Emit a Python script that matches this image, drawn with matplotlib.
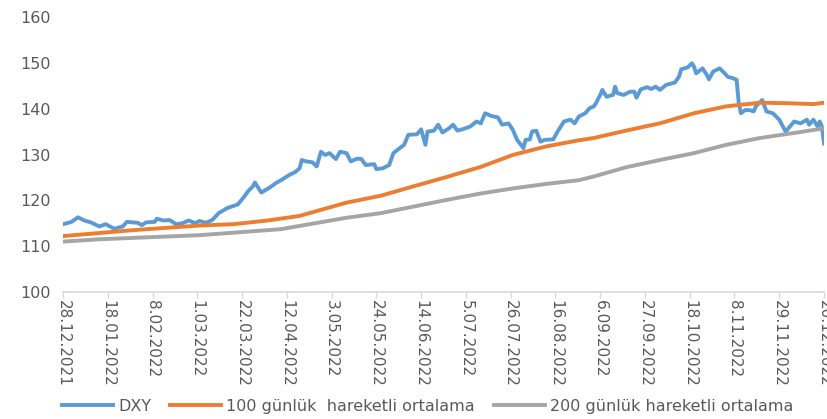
import matplotlib
matplotlib.use("Agg")
import matplotlib.pyplot as plt
import pandas as pd

# DXY and its moving averages
dxy_dates = [
    "2021-12-28", "2022-01-01", "2022-01-04", "2022-01-07", "2022-01-10", "2022-01-14",
    "2022-01-17", "2022-01-21", "2022-01-25", "2022-01-27", "2022-02-01", "2022-02-03",
    "2022-02-05", "2022-02-09", "2022-02-10", "2022-02-13", "2022-02-16", "2022-02-19",
    "2022-02-22", "2022-02-25", "2022-02-28", "2022-03-02", "2022-03-05", "2022-03-08",
    "2022-03-11", "2022-03-15", "2022-03-20", "2022-03-23", "2022-03-25", "2022-03-27",
    "2022-03-28", "2022-03-31", "2022-04-04", "2022-04-07", "2022-04-10", "2022-04-13",
    "2022-04-16", "2022-04-18", "2022-04-19", "2022-04-21", "2022-04-24", "2022-04-26",
    "2022-04-28", "2022-04-30", "2022-05-02", "2022-05-05", "2022-05-07", "2022-05-10",
    "2022-05-12", "2022-05-15", "2022-05-17", "2022-05-19", "2022-05-23", "2022-05-24",
    "2022-05-27", "2022-05-30", "2022-06-01", "2022-06-04", "2022-06-06", "2022-06-08",
    "2022-06-12", "2022-06-14", "2022-06-16", "2022-06-17", "2022-06-20", "2022-06-22",
    "2022-06-24", "2022-06-27", "2022-06-29", "2022-07-01", "2022-07-04", "2022-07-07",
    "2022-07-10", "2022-07-12", "2022-07-14", "2022-07-17", "2022-07-20", "2022-07-22",
    "2022-07-25", "2022-07-27", "2022-07-29", "2022-08-01", "2022-08-02", "2022-08-04",
    "2022-08-05", "2022-08-07", "2022-08-09", "2022-08-11", "2022-08-15", "2022-08-17",
    "2022-08-20", "2022-08-23", "2022-08-25", "2022-08-27", "2022-08-30", "2022-09-01",
    "2022-09-03", "2022-09-04", "2022-09-06", "2022-09-07", "2022-09-09", "2022-09-12",
    "2022-09-13", "2022-09-14", "2022-09-17", "2022-09-20", "2022-09-22", "2022-09-23",
    "2022-09-25", "2022-09-28", "2022-09-30", "2022-10-02", "2022-10-04", "2022-10-07",
    "2022-10-11", "2022-10-13", "2022-10-14", "2022-10-17", "2022-10-19", "2022-10-20",
    "2022-10-21", "2022-10-24", "2022-10-26", "2022-10-27", "2022-10-29", "2022-11-01",
    "2022-11-03", "2022-11-05", "2022-11-07", "2022-11-09", "2022-11-10", "2022-11-11",
    "2022-11-13", "2022-11-15", "2022-11-17", "2022-11-18", "2022-11-21", "2022-11-23",
    "2022-11-26", "2022-11-29", "2022-12-02", "2022-12-04", "2022-12-06", "2022-12-09",
    "2022-12-12", "2022-12-13", "2022-12-15", "2022-12-17", "2022-12-18", "2022-12-19",
    "2022-12-20",
]
dxy = [
    114.8, 115.3, 116.3, 115.6, 115.2, 114.3,
    114.8, 113.8, 114.3, 115.3, 115.1, 114.6,
    115.2, 115.3, 116.0, 115.6, 115.7, 114.8,
    115.0, 115.6, 115.0, 115.5, 115.1, 115.7,
    117.2, 118.3, 119.1, 120.8, 122.1, 123.0,
    123.9, 121.7, 122.8, 123.8, 124.6, 125.5,
    126.2, 127.0, 128.8, 128.5, 128.3, 127.4,
    130.6, 129.9, 130.3, 129.0, 130.6, 130.3,
    128.5, 129.1, 129.0, 127.7, 127.9, 126.8,
    127.0, 127.7, 130.3, 131.4, 132.1, 134.3,
    134.4, 135.5, 132.1, 135.0, 135.2, 136.5,
    134.8, 135.7, 136.5, 135.2, 135.6, 136.1,
    137.2, 136.8, 139.0, 138.4, 138.1, 136.5,
    136.8, 135.4, 133.2, 131.4, 133.2, 133.3,
    135.0, 135.2, 132.8, 133.2, 133.3, 135.0,
    137.2, 137.6, 136.8, 138.3, 139.0, 140.1,
    140.5, 141.2, 143.0, 144.1, 142.6, 143.0,
    144.8, 143.4, 143.0, 143.7, 143.7, 142.4,
    144.2, 144.7, 144.3, 144.8, 144.1, 145.2,
    145.7, 147.0, 148.6, 149.0, 149.9, 149.2,
    147.7, 148.8, 147.4, 146.4, 148.1, 148.8,
    147.9, 146.9, 146.7, 146.3, 141.2, 139.0,
    139.7, 139.7, 139.4, 140.5, 141.9, 139.4,
    139.0, 137.6, 135.0, 136.1, 137.2, 136.8,
    137.6, 136.5, 137.6, 136.1, 137.2, 136.1,
    132.4,
]

ma100_dates = [
    "2021-12-28", "2022-01-30", "2022-03-02", "2022-03-18", "2022-04-03", "2022-04-09",
    "2022-04-18", "2022-04-24", "2022-05-10", "2022-05-26", "2022-06-10", "2022-06-26",
    "2022-07-12", "2022-07-27", "2022-08-12", "2022-08-27", "2022-09-03", "2022-09-18",
    "2022-10-04", "2022-10-20", "2022-11-04", "2022-11-20", "2022-12-02", "2022-12-15",
    "2022-12-20",
]
ma100 = [
    112.2, 113.5, 114.5, 114.8, 115.6, 116.0,
    116.6, 117.4, 119.5, 121.0, 123.0, 125.1,
    127.3, 129.9, 131.8, 133.1, 133.6, 135.2,
    136.8, 139.0, 140.5, 141.3, 141.2, 141.0,
    141.3,
]

ma200_dates = [
    "2021-12-28", "2022-01-14", "2022-03-02", "2022-04-09", "2022-04-24", "2022-05-10",
    "2022-05-26", "2022-06-10", "2022-06-26", "2022-07-12", "2022-07-27", "2022-08-12",
    "2022-08-27", "2022-09-03", "2022-09-18", "2022-10-04", "2022-10-20", "2022-11-04",
    "2022-11-20", "2022-12-06", "2022-12-20",
]
ma200 = [
    111.0, 111.5, 112.4, 113.7, 114.9, 116.2,
    117.2, 118.6, 120.1, 121.5, 122.6, 123.6,
    124.4, 125.2, 127.2, 128.8, 130.3, 132.1,
    133.6, 134.7, 135.7,
]

tick_labels = [
    "28.12.2021", "18.01.2022", "8.02.2022", "1.03.2022", "22.03.2022", "12.04.2022",
    "3.05.2022", "24.05.2022", "14.06.2022", "5.07.2022", "26.07.2022", "16.08.2022",
    "6.09.2022", "27.09.2022", "18.10.2022", "8.11.2022", "29.11.2022", "20.12.2022",
]

series_labels = ["DXY", "100 günlük  hareketli ortalama", "200 günlük hareketli ortalama"]

text_color = "#595959"

fig = plt.figure(figsize=(8.27, 4.19), dpi=100)
ax = fig.add_axes([0.0762, 0.3031, 0.9202, 0.6563])

ax.plot(pd.to_datetime(dxy_dates), dxy, color="#5B9BD5", lw=2.8,
        solid_joinstyle="round", label=series_labels[0])
ax.plot(pd.to_datetime(ma100_dates), ma100, color="#ED7D31", lw=2.8,
        label=series_labels[1])
ax.plot(pd.to_datetime(ma200_dates), ma200, color="#A5A5A5", lw=2.8,
        label=series_labels[2])

ticks = pd.to_datetime(tick_labels, format="%d.%m.%Y")
ax.set_xticks(ticks)
ax.set_xticklabels(tick_labels, rotation=-90, fontsize=11, color=text_color)
ax.set_xlim(ticks[0], ticks[-1])

ax.set_ylim(100, 160)
ax.set_yticks(range(100, 161, 10))
ax.tick_params(axis="y", length=0, pad=9, labelsize=11.5, labelcolor=text_color)
ax.tick_params(axis="x", length=4, width=1, color="#D9D9D9", pad=2)

for side in ["top", "right", "left"]:
    ax.spines[side].set_visible(False)
ax.spines["bottom"].set_color("#D9D9D9")
ax.spines["bottom"].set_linewidth(1.2)

fig.legend(loc="center", bbox_to_anchor=(0.517, 0.031), ncol=3, frameon=False,
           fontsize=11.5, handlelength=3.2, handletextpad=0.3, columnspacing=1.2,
           labelcolor=text_color)

fig.savefig("out.png", dpi=100)
